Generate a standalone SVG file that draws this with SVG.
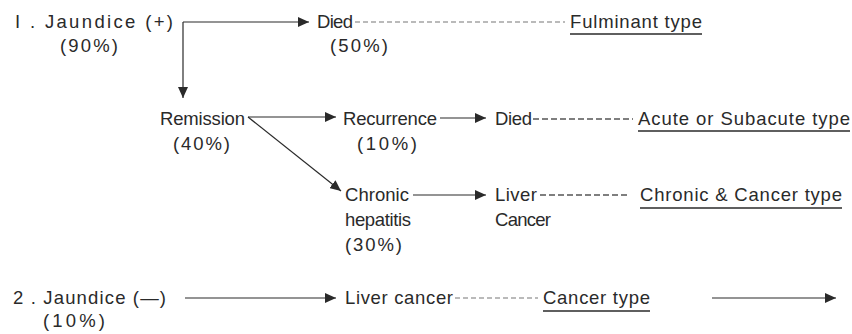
<svg xmlns="http://www.w3.org/2000/svg" width="852" height="334" viewBox="0 0 852 334">
<style>
text{font-family:"Liberation Sans",Arial,sans-serif;font-size:18.5px;fill:#2a2a2a}
.ln{stroke:#2a2a2a;stroke-width:1.2;fill:none}
.ar{stroke:#2a2a2a;stroke-width:1.2;fill:none;marker-end:url(#ah)}
.ds{stroke:#777;stroke-width:1.1;stroke-dasharray:5 3;fill:none}
.dk{stroke:#555;stroke-width:1.6;stroke-dasharray:6 3;fill:none}
.ul{stroke:#2a2a2a;stroke-width:1.3}
</style>
<defs>
<marker id="ah" markerUnits="userSpaceOnUse" markerWidth="12" markerHeight="10" refX="11" refY="5" orient="auto">
<path d="M0,0 L11,5 L0,10 Z" fill="#2a2a2a"/>
</marker>
</defs>
<rect width="852" height="334" fill="#fff"/>
<g id="connectors">
<path class="ar" d="M183,22 H309"/>
<path class="ar" d="M183,22 V98"/>
<path class="ds" d="M355,22 H565"/>
<path class="ar" d="M248,117 H336"/>
<path class="ar" d="M248,117 L341,191"/>
<path class="ar" d="M440,118 H486"/>
<path class="dk" d="M533,119 H633"/>
<path class="ar" d="M413,195 H486"/>
<path class="dk" d="M540,195 H630"/>
<path class="ar" d="M185,298 H336"/>
<path class="ds" d="M455,298 H538"/>
<path class="ar" d="M712,298 H836"/>
</g>
<g id="jaundice-pos">
<text x="15" y="28" textLength="158" lengthAdjust="spacing">I . Jaundice (+)</text>
<text x="60" y="52" textLength="58" lengthAdjust="spacing">(90%)</text>
</g>
<g id="died1">
<text x="317" y="28" textLength="36" lengthAdjust="spacing">Died</text>
<text x="330" y="52" textLength="58" lengthAdjust="spacing">(50%)</text>
</g>
<g id="fulminant">
<text x="570" y="28" textLength="132" lengthAdjust="spacing">Fulminant type</text>
<line class="ul" x1="570" y1="34" x2="702" y2="34"/>
</g>
<g id="remission">
<text x="160" y="125" textLength="85" lengthAdjust="spacing">Remission</text>
<text x="173" y="150" textLength="57" lengthAdjust="spacing">(40%)</text>
</g>
<g id="recurrence">
<text x="343" y="125" textLength="94" lengthAdjust="spacing">Recurrence</text>
<text x="357" y="150" textLength="60" lengthAdjust="spacing">(10%)</text>
</g>
<g id="died2">
<text x="495" y="125" textLength="37" lengthAdjust="spacing">Died</text>
</g>
<g id="acute">
<text x="638" y="125" textLength="212" lengthAdjust="spacing">Acute or Subacute type</text>
<line class="ul" x1="638" y1="131" x2="850" y2="131"/>
</g>
<g id="chronic">
<text x="345" y="201" textLength="64" lengthAdjust="spacing">Chronic</text>
<text x="345" y="226" textLength="66" lengthAdjust="spacing">hepatitis</text>
<text x="345" y="251" textLength="57" lengthAdjust="spacing">(30%)</text>
</g>
<g id="liver1">
<text x="495" y="201" textLength="42" lengthAdjust="spacing">Liver</text>
<text x="495" y="226" textLength="56" lengthAdjust="spacing">Cancer</text>
</g>
<g id="chronic-cancer">
<text x="640" y="201" textLength="202" lengthAdjust="spacing">Chronic &amp; Cancer type</text>
<line class="ul" x1="640" y1="208" x2="842" y2="208"/>
</g>
<g id="jaundice-neg">
<text x="13" y="304" textLength="153" lengthAdjust="spacing">2 . Jaundice (—)</text>
<text x="43" y="327" textLength="62" lengthAdjust="spacing">(10%)</text>
</g>
<g id="liver2">
<text x="345" y="304" textLength="108" lengthAdjust="spacing">Liver cancer</text>
</g>
<g id="cancer-type">
<text x="543" y="304" textLength="107" lengthAdjust="spacing">Cancer type</text>
<line class="ul" x1="543" y1="311" x2="650" y2="311"/>
</g>
</svg>
